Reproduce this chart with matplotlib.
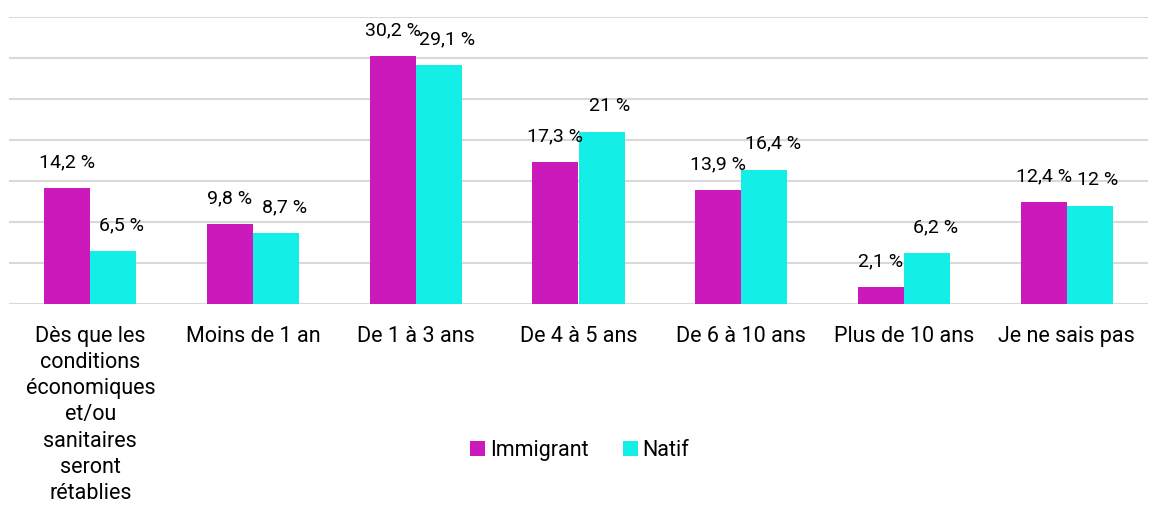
import numpy as np
import matplotlib.pyplot as plt

plt.rcParams['font.family'] = ['Roboto', 'DejaVu Sans']

categories = ["Dès que les\nconditions\néconomiques\net/ou\nsanitaires\nseront\nrétablies",
              "Moins de 1 an", "De 1 à 3 ans", "De 4 à 5 ans", "De 6 à 10 ans",
              "Plus de 10 ans", "Je ne sais pas"]
immigrant = [14.2, 9.8, 30.2, 17.3, 13.9, 2.1, 12.4]
natif = [6.5, 8.7, 29.1, 21, 16.4, 6.2, 12]
labels_imm = ["14,2 %", "9,8 %", "30,2 %", "17,3 %", "13,9 %", "2,1 %", "12,4 %"]
labels_nat = ["6,5 %", "8,7 %", "29,1 %", "21 %", "16,4 %", "6,2 %", "12 %"]

fig = plt.figure(figsize=(11.64, 5.12), dpi=100)
ax = fig.add_axes([9/1164, 208/512, 1139/1164, 287/512])

x = np.arange(len(categories))
w = 0.283
b1 = ax.bar(x - w/2, immigrant, w, color='#CC19BC', label='Immigrant')
b2 = ax.bar(x + w/2, natif, w, color='#13EFE7', label='Natif')
t1 = ax.bar_label(b1, labels=labels_imm, padding=12, fontsize=14)
t2 = ax.bar_label(b2, labels=labels_nat, padding=12, fontsize=14)
# natif labels sit a bit to the right of their bars, like in excel
for t in t2:
    t.xyann = (6, 12)

ax.set_ylim(0, 35)
ax.set_xlim(-0.5, len(categories) - 0.5)
ax.set_yticks(np.arange(0, 36, 5))
ax.yaxis.grid(True, color='#d9d9d9', linewidth=1.5)
ax.set_axisbelow(True)
ax.tick_params(axis='y', left=False, labelleft=False)
ax.tick_params(axis='x', bottom=False, labelsize=15.5, pad=12)
ax.set_xticks(x)
ax.set_xticklabels(categories, linespacing=1.33)
for s in ax.spines.values():
    s.set_visible(False)

fig.legend(loc='center', bbox_to_anchor=(0.498, 0.12), ncol=2, frameon=False,
           fontsize=15.5, handlelength=0.7, handleheight=0.7, handletextpad=0.2,
           columnspacing=1.6)

fig.savefig('out.png', dpi=100)
